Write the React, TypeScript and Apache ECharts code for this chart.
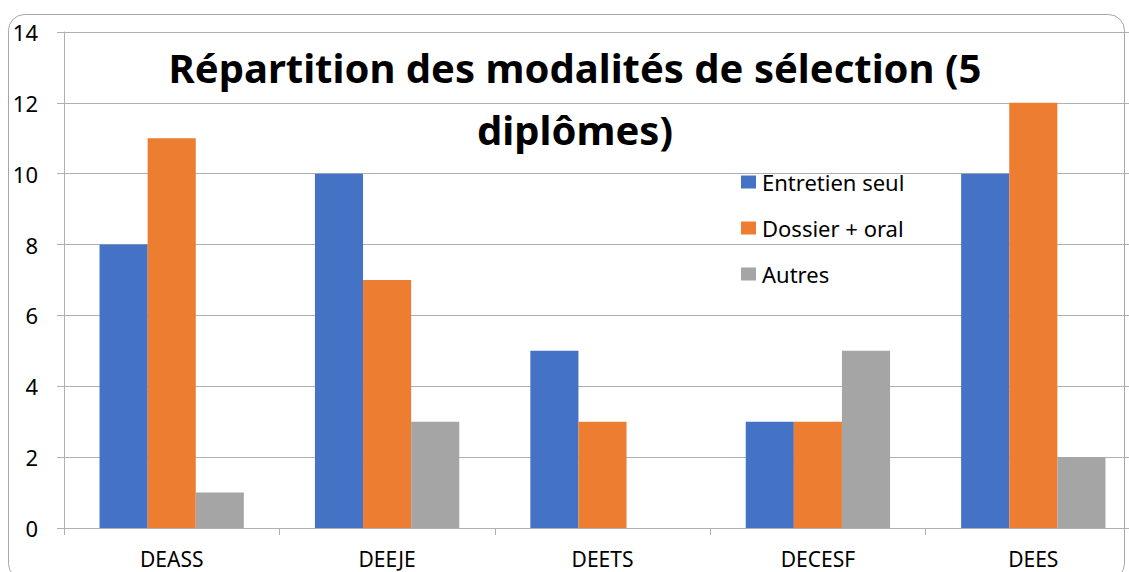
import React, { useEffect, useRef } from "react";
import * as echarts from "echarts";

const categories = ["DEASS", "DEEJE", "DEETS", "DECESF", "DEES"];
const entretienSeul = [8, 10, 5, 3, 10];
const dossierOral = [11, 7, 3, 3, 12];
const autres = [1, 3, 0, 5, 2];
const seriesNames = ["Entretien seul", "Dossier + oral", "Autres"];
const titleText = "Répartition des modalités de sélection (5\ndiplômes)";

const FONT = "'Noto Sans', sans-serif";
const LINE = "#B0B0B0";

export default function App() {
  const ref = useRef<HTMLDivElement>(null);
  useEffect(() => {
    if (!ref.current) return;
    const chart = echarts.init(ref.current, undefined, { renderer: "svg" });
    chart.setOption({
      animation: false,
      backgroundColor: "#ffffff",
      textStyle: { fontFamily: FONT },
      title: {
        text: titleText,
        left: 575,
        top: 36,
        padding: 0,
        textAlign: "center",
        textStyle: {
          fontFamily: FONT,
          fontWeight: "bold",
          fontSize: 40,
          lineHeight: 62,
          color: "#000000",
        },
      },
      legend: {
        orient: "vertical",
        left: 741,
        top: 171,
        padding: 0,
        itemWidth: 15,
        itemHeight: 13,
        itemGap: 24,
        icon: "rect",
        data: seriesNames,
        textStyle: { fontFamily: FONT, fontSize: 22, color: "#000000", padding: [0, 0, 0, 1] },
      },
      grid: {
        left: 64,
        width: 1077,
        top: 32,
        bottom: 44,
        containLabel: false,
        outerBoundsMode: "none",
      },
      xAxis: {
        type: "category",
        data: categories,
        axisLine: { lineStyle: { color: LINE, width: 1 } },
        axisTick: { show: true, length: 7, lineStyle: { color: LINE } },
        axisLabel: { fontFamily: FONT, fontSize: 21, lineHeight: 21, color: "#000000", margin: 20 },
      },
      yAxis: {
        type: "value",
        min: 0,
        max: 14,
        interval: 2,
        axisLine: { show: true, lineStyle: { color: LINE } },
        axisTick: { show: true, length: 7, lineStyle: { color: LINE } },
        splitLine: { lineStyle: { color: LINE } },
        axisLabel: { fontFamily: FONT, fontSize: 22, color: "#000000", margin: 26 },
      },
      series: [
        { name: seriesNames[0], type: "bar", data: entretienSeul, itemStyle: { color: "#4472C4" }, barGap: "0%", barCategoryGap: "33%" },
        { name: seriesNames[1], type: "bar", data: dossierOral, itemStyle: { color: "#ED7D31" }, barGap: "0%", barCategoryGap: "33%" },
        { name: seriesNames[2], type: "bar", data: autres, itemStyle: { color: "#A5A5A5" }, barGap: "0%", barCategoryGap: "33%" },
      ],
      graphic: [
        {
          type: "rect",
          silent: true,
          z: 100,
          shape: { x: 8.5, y: 14.5, width: 1116, height: 565, r: 16 },
          style: { fill: "none", stroke: "#A6A6A6", lineWidth: 1 },
        },
      ],
    });
    return () => chart.dispose();
  }, []);
  return (
    <div
      ref={ref}
      style={{ position: "fixed", left: 0, top: 0, width: 1129, height: 572 }}
    />
  );
}
